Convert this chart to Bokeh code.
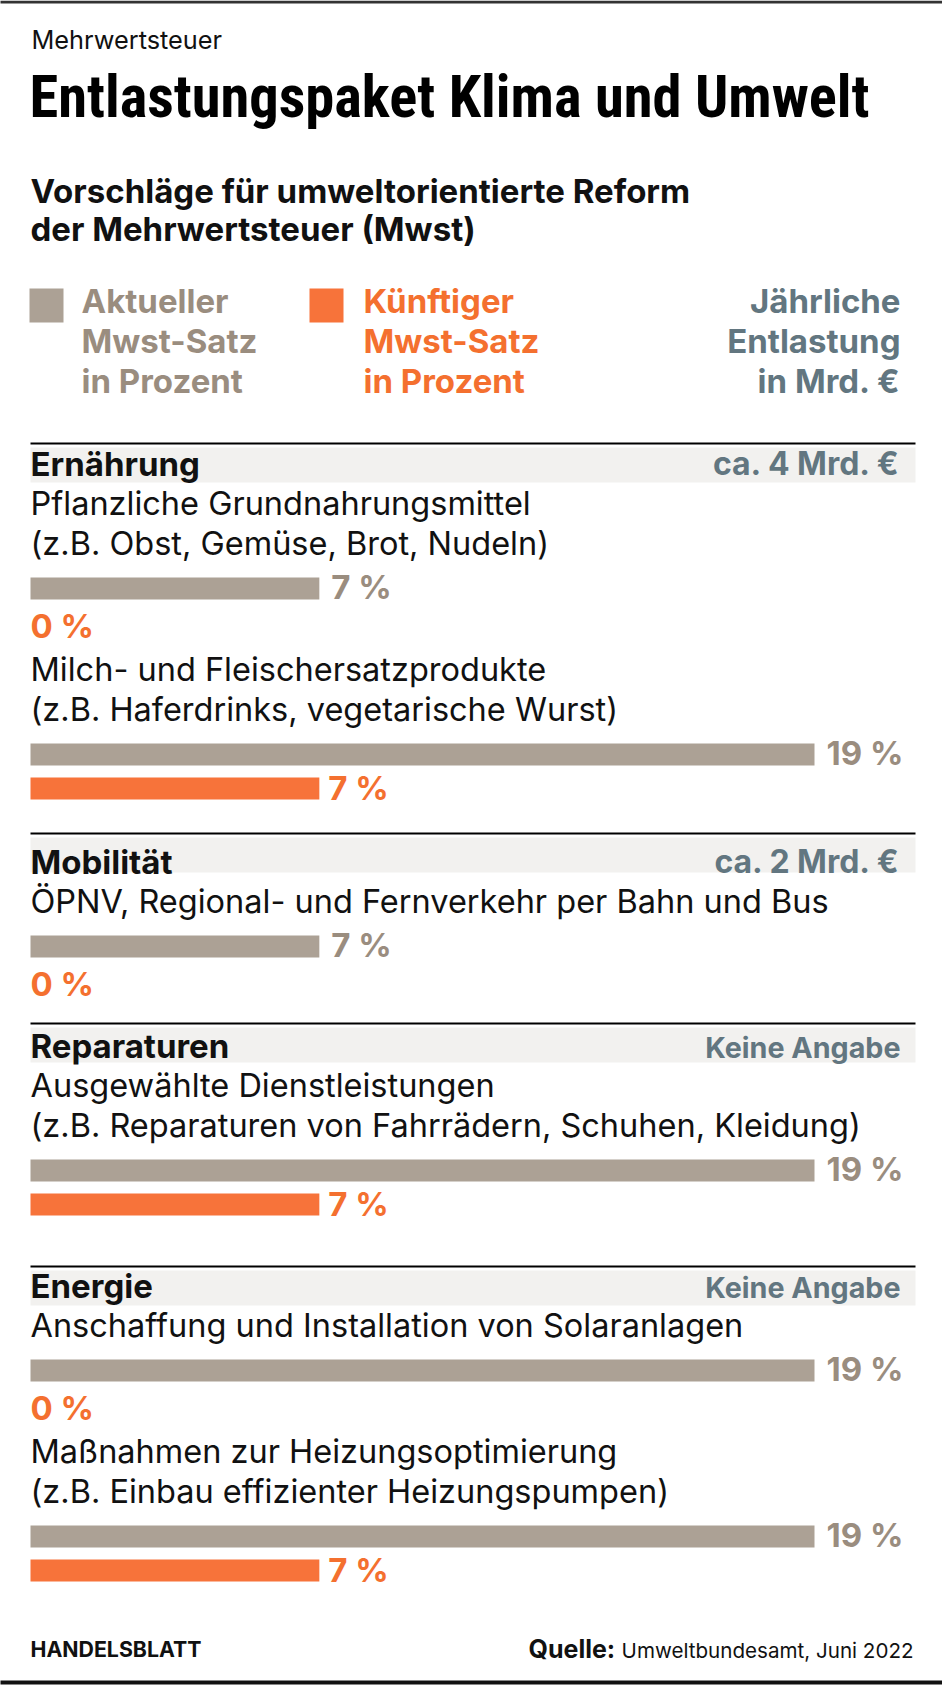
from bokeh.plotting import figure
from bokeh.models import Range1d
from bokeh.core.properties import value
from bokeh.embed import file_html
from bokeh.resources import INLINE

# ---------------- data ----------------
kicker = "Mehrwertsteuer"
title = "Entlastungspaket Klima und Umwelt"
subtitle = ["Vorschläge für umweltorientierte Reform", "der Mehrwertsteuer (Mwst)"]
legend_current = ["Aktueller", "Mwst-Satz", "in Prozent"]
legend_future = ["Künftiger", "Mwst-Satz", "in Prozent"]
legend_relief = ["Jährliche", "Entlastung", "in Mrd. €"]

sections = ["Ernährung", "Mobilität", "Reparaturen", "Energie"]
relief = ["ca. 4 Mrd. €", "ca. 2 Mrd. €", "Keine Angabe", "Keine Angabe"]

item_section = [0, 0, 1, 2, 3, 3]
item_labels = [
    ["Pflanzliche Grundnahrungsmittel", "(z.B. Obst, Gemüse, Brot, Nudeln)"],
    ["Milch- und Fleischersatzprodukte", "(z.B. Haferdrinks, vegetarische Wurst)"],
    ["ÖPNV, Regional- und Fernverkehr per Bahn und Bus"],
    ["Ausgewählte Dienstleistungen", "(z.B. Reparaturen von Fahrrädern, Schuhen, Kleidung)"],
    ["Anschaffung und Installation von Solaranlagen"],
    ["Maßnahmen zur Heizungsoptimierung", "(z.B. Einbau effizienter Heizungspumpen)"],
]
current_rate = [7, 19, 7, 19, 19, 19]
future_rate = [0, 7, 0, 7, 0, 7]

footer_brand = "HANDELSBLATT"
source_label = "Quelle:"
source_text = "Umweltbundesamt, Juni 2022"

# ---------------- style / layout ----------------
BODY = "Inter"
TITLE_FONT = "Roboto Condensed, DejaVu Sans Condensed"
GRAY_BAR = "#aca195"
GRAY_TXT = "#9a8d7f"
ORANGE = "#f7733a"
ORANGE_TXT = "#f4702f"
BLUEGRAY = "#627680"
BAND = "#f2f1ef"
BLACK = "#111111"

W, H = 942, 1685
X0 = 30                      # pixel of 0 %
PXPCT = 784 / 19             # pixels per percentage point
RIGHT_TXT = 900
BAND_RIGHT = 915

SECTION_LINE_Y = [443, 833, 1023, 1266]
HEADER_DY = [32, 40, 34, 31]
LINE_STEP = 40
BAR_H = 22
ROW = 34
FS = 33
K_BASE = 0.36                # text-box baseline correction (fraction of font size)


def px(xp):
    return (xp - X0) / PXPCT


p = figure(width=W, height=H, output_backend="svg", toolbar_location=None,
           x_range=Range1d(px(0), px(W)), y_range=Range1d(H, 0),
           x_axis_location=None, y_axis_location=None, min_border=0)
p.grid.visible = False
p.outline_line_color = None
p.background_fill_color = "white"
p.border_fill_color = "white"


def txt(xs, ys, texts, size, color, style="normal", align="left", font=BODY):
    p.text(x=[px(x) for x in xs], y=[y - K_BASE * size for y in ys], text=texts,
           text_font=value(font), text_font_size=f"{size}px", text_color=color,
           text_font_style=style, text_align=align, text_baseline="alphabetic")


# top & bottom rules
p.segment(x0=[px(-5)], x1=[px(W + 5)], y0=[1.5], y1=[1.5], line_color="#333333", line_width=3)
p.segment(x0=[px(-5)], x1=[px(W + 5)], y0=[1682], y1=[1682], line_color="#111111", line_width=4)

# header texts
txt([31], [48], [kicker], 25.3, BLACK)
txt([29], [118], [title], 58.5, "#000000", style="bold", font=TITLE_FONT)
txt([30, 30], [202, 240], subtitle, FS, BLACK, style="bold")

# legend
leg_y = [312, 352, 392]
p.quad(left=[px(29), px(309)], right=[px(63), px(343)], top=[288, 288], bottom=[322, 322],
       fill_color=[GRAY_BAR, ORANGE], line_color=None)
txt([81] * 3, leg_y, legend_current, FS, GRAY_TXT, style="bold")
txt([363] * 3, leg_y, legend_future, FS, ORANGE_TXT, style="bold")
txt([RIGHT_TXT] * 3, leg_y, legend_relief, FS, BLUEGRAY, style="bold", align="right")

# sections
header_base = [SECTION_LINE_Y[k] + HEADER_DY[k] for k in range(len(sections))]
p.quad(left=[0] * 4, right=[px(BAND_RIGHT)] * 4,
       top=[y + 4 for y in SECTION_LINE_Y], bottom=[y + 39 for y in SECTION_LINE_Y],
       fill_color=BAND, line_color=None)
p.segment(x0=[0] * 4, x1=[px(BAND_RIGHT)] * 4, y0=SECTION_LINE_Y, y1=SECTION_LINE_Y,
          line_color="#000000", line_width=2)
txt([X0] * 4, header_base, sections, FS, BLACK, style="bold")
rel_size = [32 if r.startswith("ca.") else 28.7 for r in relief]
for k in range(len(relief)):
    txt([RIGHT_TXT], [header_base[k]], [relief[k]], rel_size[k], BLUEGRAY, style="bold", align="right")

# items
lab_x, lab_y, lab_t = [], [], []
gray_y, orange_y = [], []
prev_sec = -1
cursor = 0
for i, lines in enumerate(item_labels):
    s = item_section[i]
    if s != prev_sec:
        base = header_base[s] + LINE_STEP
    else:
        base = cursor + 104
    for j, t in enumerate(lines):
        lab_x.append(X0)
        lab_y.append(base + j * LINE_STEP)
        lab_t.append(t)
    gtop = base + (len(lines) - 1) * LINE_STEP + 22
    gray_y.append(gtop + BAR_H / 2)
    orange_y.append(gtop + ROW + BAR_H / 2)
    cursor = gtop
    prev_sec = s

txt(lab_x, lab_y, lab_t, 32.5, BLACK)

p.hbar(y=gray_y, height=BAR_H, left=0, right=current_rate, fill_color=GRAY_BAR, line_color=None)
p.hbar(y=orange_y, height=BAR_H, left=0, right=future_rate, fill_color=ORANGE, line_color=None)

# value labels
g_lab_x = [X0 + v * PXPCT + 12 for v in current_rate]
g_lab_y = [y + BAR_H / 2 - 1 for y in gray_y]
txt(g_lab_x, g_lab_y, [f"{v} %" for v in current_rate], FS, GRAY_TXT, style="bold")
o_lab_x = [X0 + v * PXPCT + (9 if v > 0 else 0) for v in future_rate]
o_lab_y = [y + BAR_H / 2 + (0 if v > 0 else 4) for y, v in zip(orange_y, future_rate)]
txt(o_lab_x, o_lab_y, [f"{v} %" for v in future_rate], FS, ORANGE_TXT, style="bold")

# footer
txt([30], [1656], [footer_brand], 21.3, BLACK, style="bold")
txt([528], [1657], [source_label], 25, BLACK, style="bold")
txt([913], [1657], [source_text], 20.6, BLACK, align="right")

open("out.html", "w").write(file_html(p, INLINE))
